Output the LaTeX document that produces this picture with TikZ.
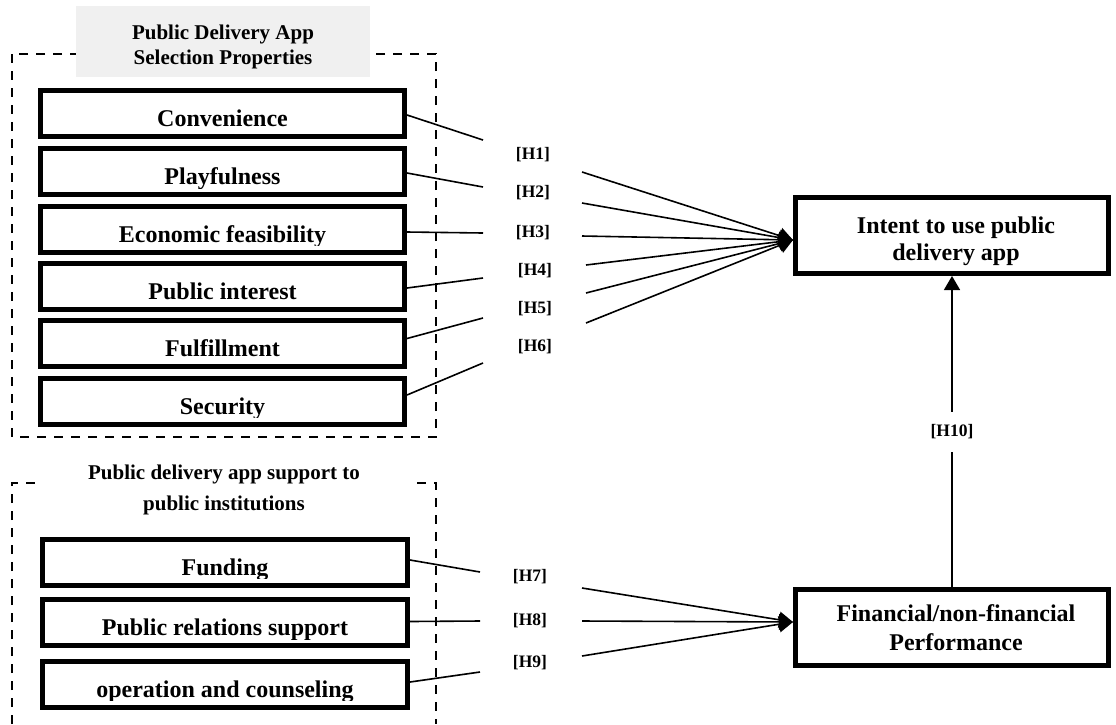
\documentclass[tikz,border=0pt]{standalone}
\usepackage{fontspec}
\setmainfont{Liberation Serif}
\usetikzlibrary{arrows.meta,calc}
\definecolor{titlegray}{RGB}{240,240,240}
\tikzset{
  cbox/.style={draw, line width=5pt, inner sep=0pt, minimum width=364pt, minimum height=46pt},
  wbox/.style={cbox, minimum width=365pt},
  bigbox/.style={draw, line width=5pt, inner sep=0pt, minimum width=313pt, minimum height=76pt},
  boxtext/.style={font=\fontsize{24}{27}\selectfont\bfseries, inner sep=0pt},
  bigtext/.style={align=center, inner sep=0pt},
  titletext/.style={font=\fontsize{21}{25}\selectfont\bfseries, align=center, inner sep=0pt},
  lab/.style={font=\fontsize{17.5}{19}\selectfont\bfseries, inner sep=0pt},
  groupline/.style={dashed, dash pattern=on 9pt off 8pt, line width=2pt},
  conn/.style={line width=1.6pt},
  arr/.style={conn, -{Triangle[length=14pt,width=16pt]}}
}
\newcommand\mkbox[5]{%
  \node[#1] (#2) at (#3,#4) {};
  \begin{scope}
    \clip (#2.north west) rectangle ($(#2.south east)+(0,-9)$);
    \node[boxtext, anchor=base] (#2t) at ($(#2.south)+(0,-12.5)$) {#5};
  \end{scope}}
\begin{document}
\begin{tikzpicture}[x=1pt,y=-1pt]
\useasboundingbox (0,0) rectangle (1116,724);
% group frames
\draw[groupline] (12,54) rectangle (436,437);
\node[fill=titlegray, minimum width=294pt, minimum height=71pt, inner sep=0pt] (g1) at (223,41.5) {};
\node[titletext] (g1t) at (223,46.7) {Public Delivery App\\Selection Properties};
\draw[groupline] (12,724) -- (12,483) -- (436,483) -- (436,724);
\node[fill=white, minimum width=374pt, minimum height=56pt, inner sep=0pt] (g2) at (224,489) {};
\node[font=\fontsize{21}{31}\selectfont\bfseries, align=center, inner sep=0pt] (g2t) at (224,489.6) {Public delivery app support to\\public institutions};
% boxes
\mkbox{cbox}{c1}{222.5}{113.5}{Convenience}
\mkbox{cbox}{c2}{222.5}{171.5}{Playfulness}
\mkbox{cbox}{c3}{222.5}{229}{Economic feasibility}
\mkbox{cbox}{c4}{222.5}{286.5}{Public interest}
\mkbox{cbox}{c5}{222.5}{343.5}{Fulfillment}
\mkbox{cbox}{c6}{222.5}{401}{Security}
\mkbox{wbox}{s1}{225}{562}{Funding}
\mkbox{wbox}{s2}{225}{622.5}{Public relations support}
\mkbox{wbox}{s3}{225}{684}{operation and counseling}
\node[bigbox] (intent) at (952,235.5) {};
\node[bigtext, font=\fontsize{24}{27}\selectfont\bfseries] (intentt) at (956,241) {Intent to use public\\delivery app};
\node[bigbox] (fin) at (952,627.5) {};
\node[bigtext, font=\fontsize{24}{29}\selectfont\bfseries] (fint) at (956,627.5) {Financial/non-financial\\Performance};
% labels
\node[lab] (h1) at (533,155) {[H1]};
\node[lab] (h2) at (533,193) {[H2]};
\node[lab] (h3) at (533,233) {[H3]};
\node[lab] (h4) at (535,271) {[H4]};
\node[lab] (h5) at (535,309) {[H5]};
\node[lab] (h6) at (535,347) {[H6]};
\node[lab] (h7) at (530,577) {[H7]};
\node[lab] (h8) at (530,621) {[H8]};
\node[lab] (h9) at (530,663) {[H9]};
% connector points
\coordinate (a1) at (483,140); \coordinate (b1) at (582,172);
\coordinate (a2) at (483,187); \coordinate (b2) at (582,203);
\coordinate (a3) at (483,233); \coordinate (b3) at (582,236);
\coordinate (a4) at (483,278); \coordinate (b4) at (586,265);
\coordinate (a5) at (483,318); \coordinate (b5) at (586,293);
\coordinate (a6) at (483,363); \coordinate (b6) at (586,323);
\coordinate (a7) at (480,572); \coordinate (b7) at (582,588);
\coordinate (a8) at (480,621); \coordinate (b8) at (582,621);
\coordinate (a9) at (480,672); \coordinate (b9) at (582,656);
\coordinate (tipI) at ($(intent.west)+(0,4.5)$);
\coordinate (tipF) at ($(fin.west)+(0,-5.5)$);
% connectors
\draw[conn] ($(c1.east)+(0,1.5)$) -- (a1);
\draw[conn] ($(c2.east)+(0,1.5)$) -- (a2);
\draw[conn] ($(c3.east)+(0,3)$) -- (a3);
\draw[conn] ($(c4.east)+(0,1.5)$) -- (a4);
\draw[conn] ($(c5.east)+(0,-5)$) -- (a5);
\draw[conn] ($(c6.east)+(0,-6)$) -- (a6);
\draw[conn] ($(s1.east)+(0,-2)$) -- (a7);
\draw[conn] ($(s2.east)+(0,-1)$) -- (a8);
\draw[conn] ($(s3.east)+(0,-2)$) -- (a9);
\foreach \b in {b1,b2,b3,b4,b5,b6} \draw[arr] (\b) -- (tipI);
\foreach \b in {b7,b8,b9} \draw[arr] (\b) -- (tipF);
\draw[arr] (fin.north) -- (intent.south);
\node[lab, fill=white, minimum height=40pt, minimum width=40pt] (h10) at ($(fin.north)!0.5!(intent.south)$) {[H10]};
\end{tikzpicture}
\end{document}
